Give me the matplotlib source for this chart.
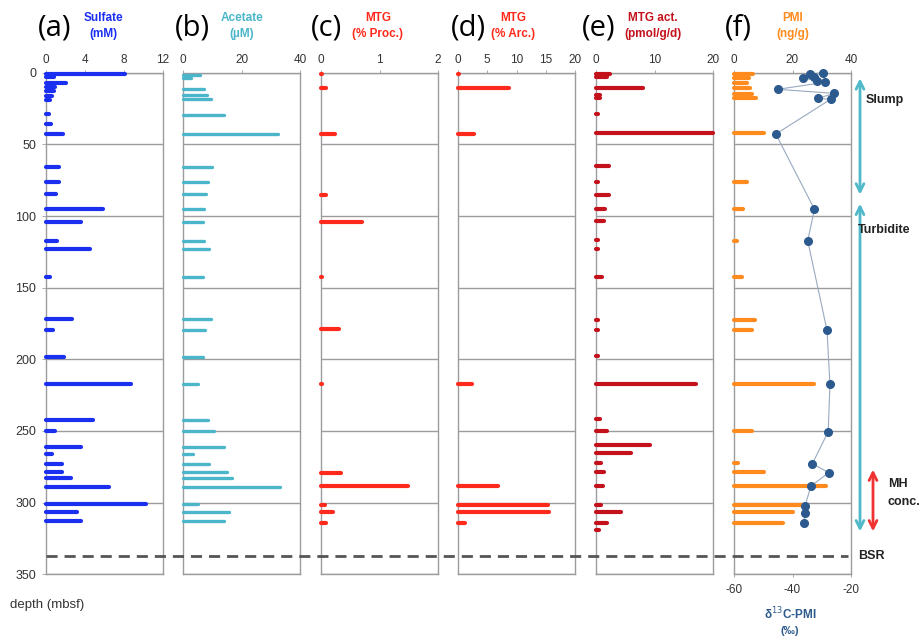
import matplotlib
matplotlib.use("Agg")
import matplotlib.pyplot as plt
import matplotlib.transforms as mtransforms
from matplotlib.lines import Line2D
from matplotlib.patches import FancyArrowPatch

plt.rcParams['font.family'] = ['Liberation Sans', 'DejaVu Sans']
plt.rcParams['axes.unicode_minus'] = False

# ---- data: depth (mbsf) and measured values ----
sulfate_depth = [1, 3, 7, 10, 13, 16, 19, 29, 36, 42.5, 65.6, 76.3, 84.9, 95.3, 104.2,
                 117.4, 123.2, 142.5, 172, 179.5, 198.6, 217.4, 242.3, 250.2, 260.9,
                 266, 273, 278.4, 282.6, 288.9, 301.2, 306.7, 313]
sulfate = [8.1, 0.8, 2.1, 0.9, 0.8, 0.6, 0.4, 0.3, 0.5, 1.7, 1.3, 1.3, 1.0, 5.8, 3.6,
           1.1, 4.5, 0.4, 2.7, 0.75, 1.8, 8.7, 4.8, 0.9, 3.6,
           0.6, 1.6, 1.6, 2.6, 6.5, 10.3, 3.2, 3.6]

acetate_depth = [1.8, 3.7, 11.2, 15.3, 18.6, 29.7, 42.6, 65.6, 76.3, 84.9, 95.3, 104.2,
                 117.4, 123.2, 142.5, 172, 179.5, 198.6, 217.4, 242.3, 250.2, 260.9,
                 266, 273, 278.4, 282.6, 288.9, 301.2, 306.7, 313]
acetate = [5.8, 2.7, 7.2, 8.1, 9.7, 14.0, 32.4, 9.9, 8.6, 7.7, 7.2, 6.9,
           7.1, 8.9, 6.9, 9.7, 7.5, 6.7, 5.2, 8.6, 10.6, 13.9,
           3.5, 8.9, 15.1, 16.8, 33.2, 5.0, 15.7, 14.0]

mtg_proc_depth = [1.1, 10.9, 43, 85.3, 104, 142.8, 179, 217, 279, 288.6, 301.4, 306.7, 314.2]
mtg_proc = [0.02, 0.08, 0.24, 0.08, 0.70, 0.01, 0.31, 0.01, 0.34, 1.49, 0.06, 0.21, 0.09]

mtg_arc_depth = [1.1, 10.9, 43, 217, 288.6, 301.4, 306.7, 314.2]
mtg_arc = [0.2, 8.8, 2.7, 2.4, 6.9, 15.3, 15.5, 1.2]

mtg_act_depth = [0.9, 3, 10.7, 15.3, 17.7, 29, 42.3, 65.1, 76, 85, 94.9, 103.2, 116.7,
                 123, 142.3, 172.7, 179.5, 197.6, 217, 241.8, 249.7, 260, 265.6, 272.5,
                 278.8, 288.4, 301.4, 306.7, 314.2, 319]
mtg_act = [2.4, 1.8, 8.0, 0.6, 0.6, 0.4, 20, 2.3, 0.3, 2.3, 1.5, 1.4, 0.3,
           0.3, 1.0, 0.4, 0.3, 0.3, 17.1, 0.6, 1.9, 9.2, 5.9, 0.9,
           1.4, 1.2, 0.8, 4.2, 1.9, 0.5]

pmi_depth = [1, 4, 7, 11, 15, 18, 42.3, 76, 94.9, 117.4, 142.3, 172.7, 179.5, 217,
             249.7, 272.5, 278.8, 288.4, 301.4, 306.7, 314.2]
pmi = [6.5, 5.0, 4.5, 5.5, 6.0, 7.5, 10.3, 4.3, 3.0, 0.9, 2.6, 7.2, 6.0, 27.5,
       6.0, 1.5, 10.3, 31.5, 23.7, 20.3, 16.8]

d13c_depth = [0, 0.9, 3.2, 3.9, 5.6, 6.7, 11.6, 14.4, 17.9, 18.6, 42.8, 95.3, 117.2,
              179.8, 217.4, 250.5, 272.8, 279.1, 288.4, 302.1, 307, 314]
d13c = [-29.6, -34.0, -32.8, -36.5, -31.5, -28.9, -45.1, -25.8, -31.2, -27.0, -45.7,
        -32.5, -34.8, -28.2, -27.2, -27.8, -33.2, -27.6, -33.7, -35.7, -35.7, -36.2]

bsr_depth = 337

panel_letters = ['(a)', '(b)', '(c)', '(d)', '(e)', '(f)']
panel_titles = [('Sulfate', '(mM)'), ('Acetate', '(µM)'), ('MTG', '(% Proc.)'),
                ('MTG', '(% Arc.)'), ('MTG act.', '(pmol/g/d)'), ('PMI', '(ng/g)')]
panel_xlim = [12, 40, 2, 20, 20, 40]
panel_xticks = [[0, 4, 8, 12], [0, 20, 40], [0, 1, 2], [0, 5, 10, 15, 20],
                [0, 10, 20], [0, 20, 40]]
panel_colors = ['#1a2ff0', '#4bb6c9', '#ff2a1c', '#ff2a1c', '#c4121c', '#ff8a1e']
depth_ticks = [0, 50, 100, 150, 200, 250, 300, 350]
d13c_ticks = [-60, -40, -20]

series = [(sulfate_depth, sulfate), (acetate_depth, acetate),
          (mtg_proc_depth, mtg_proc), (mtg_arc_depth, mtg_arc),
          (mtg_act_depth, mtg_act), (pmi_depth, pmi)]
bar_widths = [3.0, 2.4, 3.0, 3.0, 3.0, 3.0]

W, H = 924, 640
fig = plt.figure(figsize=(W / 100, H / 100), dpi=100)


def fx(x):
    return x / W


def fy(y):
    return 1 - y / H


lefts = [46, 183, 321, 458, 596, 734]
pw = 117
top_px, bot_px = 72.7, 574.3
frame_col = '#9c9c9c'
axes = []
for i, left in enumerate(lefts):
    ax = fig.add_axes([fx(left), fy(bot_px), pw / W, (bot_px - top_px) / H])
    ax.set_ylim(350, 0)
    ax.set_xlim(0, panel_xlim[i])
    for sp in ax.spines.values():
        sp.set_color(frame_col)
        sp.set_linewidth(1)
    ax.set_yticks(depth_ticks)
    ax.yaxis.grid(True, color=frame_col, linewidth=1)
    ax.set_axisbelow(True)
    if i == 0:
        ax.tick_params(axis='y', direction='out', length=3, width=0.6, color=frame_col,
                       labelsize=9, labelcolor='#333333', pad=4)
    else:
        ax.tick_params(axis='y', length=0, labelleft=False)
    d, v = series[i]
    lc = ax.hlines(d, 0, v, colors=panel_colors[i], linewidth=bar_widths[i],
                   zorder=3, clip_on=False)
    lc.set_capstyle('round')
    axes.append(ax)

    # panel letter and coloured title
    cx = left + [9, 9, 5, 10, 3, 4][i]
    fig.text(fx(cx), fy(28), panel_letters[i], fontsize=21, ha='center', va='center',
             family=['Open Sans', 'DejaVu Sans'], color='black')
    tx = [103, 242, 378, 513, 653, 793][i]
    t1, t2 = panel_titles[i]
    fig.text(fx(tx), fy(18), t1, fontsize=8.5, fontweight='bold', ha='center',
             va='center', color=panel_colors[i])
    fig.text(fx(tx), fy(34), t2, fontsize=8.5, fontweight='bold', ha='center',
             va='center', color=panel_colors[i])

# stable carbon isotope of PMI on a secondary axis of panel (f)
axf = axes[5]
axd = axf.twiny()
axd.set_xlim(-60, -20)
axd.set_ylim(350, 0)
axd.set_xticks(d13c_ticks)
axd.xaxis.set_ticks_position('bottom')
axd.xaxis.set_label_position('bottom')
axd.tick_params(axis='x', direction='out', length=2, width=0.6, color=frame_col,
                labelsize=8.5, labelcolor='#333333', pad=5)
for sp in axd.spines.values():
    sp.set_visible(False)
axd.plot(d13c, d13c_depth, color='#98a9c0', linewidth=0.8, zorder=4, clip_on=False)
axd.plot(d13c, d13c_depth, 'o', color='#2c5a8e', markersize=5.5, zorder=5,
         linestyle='none', clip_on=False)

# top value axes of every panel (after twiny, which moves the host ticks)
for i, ax in enumerate(axes):
    ax.set_xticks(panel_xticks[i])
    ax.xaxis.set_ticks_position('top')
    ax.xaxis.set_label_position('top')
    ax.tick_params(axis='x', which='both', top=True, bottom=False, labeltop=True,
                   labelbottom=False, direction='out', length=2, width=0.6,
                   color=frame_col, labelsize=8.5, labelcolor='#333333', pad=3)

fig.text(fx(790), fy(614), r'δ$^{13}$C-PMI', fontsize=8.5, fontweight='bold',
         ha='center', va='center', color='#2c5a8e')
fig.text(fx(790), fy(631), '(‰)', fontsize=8, fontweight='bold', ha='center',
         va='center', color='#2c5a8e')

# depth axis label
fig.text(fx(10), fy(605), 'depth (mbsf)', fontsize=9.5, ha='left', va='center',
         color='#333333')

# bottom-simulating reflector
bsr_tr = mtransforms.blended_transform_factory(fig.transFigure, axes[0].transData)
fig.add_artist(Line2D([fx(46), fx(848)], [bsr_depth, bsr_depth], transform=bsr_tr,
                      color='#555555', linewidth=2, linestyle=(0, (4, 2.5))))
fig.text(fx(858), fy(556), 'BSR', fontsize=9, fontweight='bold', ha='left',
         va='center', color='#222222')

# lithological units and hydrate zone
arr_tr = mtransforms.blended_transform_factory(fig.transFigure, axes[0].transData)
cyan = '#4fb9c9'
for y0, y1 in [(2, 87), (89.5, 322)]:
    fig.add_artist(FancyArrowPatch(
        (fx(860), y0), (fx(860), y1), transform=arr_tr, arrowstyle='<->',
        mutation_scale=14, color=cyan, linewidth=2))
fig.add_artist(FancyArrowPatch(
    (fx(873), 275), (fx(873), 322), transform=arr_tr, arrowstyle='<->',
    mutation_scale=14, color='#f03232', linewidth=2))

fig.text(fx(866), fy(100), 'Slump', fontsize=9, fontweight='bold', ha='left',
         va='center', color='#222222')
fig.text(fx(858), fy(230), 'Turbidite', fontsize=9, fontweight='bold', ha='left',
         va='center', color='#222222')
fig.text(fx(888), fy(484), 'MH', fontsize=9, fontweight='bold', ha='left',
         va='center', color='#222222')
fig.text(fx(888), fy(502), 'conc.', fontsize=9, fontweight='bold', ha='left',
         va='center', color='#222222')

fig.savefig('out.png', dpi=100)
